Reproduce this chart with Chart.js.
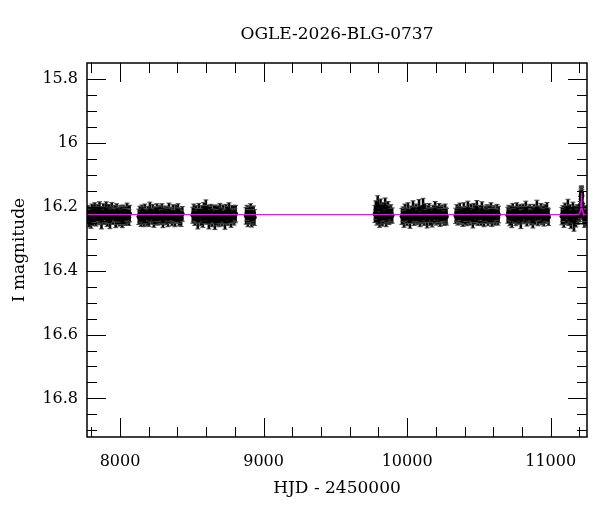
<!DOCTYPE html>
<html><head><meta charset="utf-8">
<script src="https://cdn.jsdelivr.net/npm/chart.js@4"></script>
<style>html,body{margin:0;padding:0;background:#fff;} canvas{display:block;}</style>
</head><body>
<canvas id="c" width="600" height="512"></canvas>
<script>
const chartTitle = 'OGLE-2026-BLG-0737';
const xTitle = 'HJD - 2450000';
const yTitle = 'I magnitude';
const xTicks = [8000, 9000, 10000, 11000];
const yTicks = [15.8, 16, 16.2, 16.4, 16.6, 16.8];
const xRange = [7770, 11253];
const yRange = [15.749, 16.921];

const hjd = [
7772,7778,7785,7791,7798,7805,7811,7818,7824,7831,7838,7844,7851,7857,7864,7871,7877,7884,7890,7897,7904,7910,7917,7923,7930,7937,7943,7950,7956,7963,7970,7976,7983,7989,7996,8003,8009,8016,8022,8029,8036,8042,8049,8055,8062,8067,
8131,8138,8145,8152,8159,8166,8173,8180,8187,8194,8201,8208,8215,8222,8229,8236,8243,8250,8257,8264,8271,8278,8285,8292,8299,8306,8313,8320,8327,8334,8341,8348,8355,8362,8369,8376,8383,8390,8397,8404,8411,8418,8425,8434,
8507,8514,8521,8528,8535,8542,8549,8556,8563,8570,8577,8584,8591,8598,8605,8612,8619,8626,8633,8640,8647,8654,8661,8668,8675,8682,8689,8696,8703,8710,8717,8724,8731,8738,8745,8752,8759,8766,8773,8780,8787,8794,8800,8805,
8878,8884,8891,8897,8904,8910,8917,8923,8930,8936,
9776,9782,9789,9795,9802,9808,9815,9821,9828,9834,9841,9847,9854,9860,9867,9873,9880,9887,9896,
9964,9971,9978,9985,9992,9999,10006,10013,10020,10027,10034,10041,10048,10055,10062,10069,10076,10083,10090,10097,10104,10111,10118,10125,10132,10139,10146,10153,10160,10167,10174,10181,10188,10195,10202,10209,10216,10223,10230,10237,10244,10251,10258,10265,10270,10274,
10339,10346,10353,10360,10367,10374,10381,10388,10395,10402,10409,10416,10423,10430,10437,10444,10451,10458,10465,10472,10479,10486,10493,10500,10507,10514,10521,10528,10535,10542,10549,10556,10563,10570,10577,10584,10591,10598,10605,10612,10619,10626,10632,10637,
10701,10708,10715,10722,10729,10736,10743,10750,10757,10764,10771,10778,10785,10792,10799,10806,10813,10820,10827,10834,10841,10848,10855,10862,10869,10876,10883,10890,10897,10904,10911,10918,10925,10932,10939,10946,10953,10960,10967,10974,10980,10985,
11078,11085,11092,11099,11106,11113,11120,11127,11134,11141,11148,11155,11162,11169,11176,11183,11190,11196,11201,11205,11208,11211,11212,11213,11214,11215,11216,11217,11220,11224,11229,11235,11241,11247,11253
];
const mag = [
16.228,16.219,16.236,16.222,16.241,16.215,16.230,16.226,16.212,16.238,16.224,16.219,16.233,16.209,16.227,16.240,16.221,16.216,16.232,16.225,16.211,16.237,16.229,16.218,16.243,16.223,16.214,16.231,16.226,16.220,16.238,16.213,16.229,16.224,16.235,16.217,16.227,16.242,16.219,16.230,16.222,16.236,16.215,16.228,16.233,16.221,
16.231,16.224,16.238,16.219,16.227,16.240,16.216,16.229,16.233,16.221,16.236,16.212,16.226,16.230,16.218,16.239,16.223,16.228,16.214,16.235,16.225,16.220,16.232,16.217,16.241,16.226,16.219,16.230,16.222,16.237,16.215,16.228,16.224,16.234,16.219,16.229,16.238,16.221,16.226,16.213,16.233,16.227,16.236,16.222,
16.226,16.218,16.235,16.222,16.229,16.241,16.214,16.227,16.232,16.220,16.238,16.211,16.224,16.205,16.231,16.219,16.243,16.226,16.216,16.237,16.229,16.222,16.245,16.218,16.233,16.225,16.239,16.215,16.228,16.236,16.221,16.230,16.244,16.217,16.226,16.234,16.212,16.229,16.238,16.223,16.219,16.232,16.227,16.221,
16.228,16.219,16.235,16.224,16.231,16.216,16.238,16.226,16.221,16.233,
16.222,16.210,16.231,16.196,16.226,16.239,16.205,16.218,16.234,16.215,16.228,16.200,16.236,16.221,16.212,16.230,16.224,16.219,16.227,
16.230,16.223,16.238,16.219,16.227,16.234,16.214,16.229,16.241,16.221,16.226,16.209,16.235,16.224,16.218,16.232,16.226,16.206,16.239,16.222,16.229,16.201,16.233,16.217,16.226,16.240,16.220,16.214,16.231,16.225,16.237,16.219,16.228,16.211,16.234,16.223,16.230,16.216,16.238,16.224,16.220,16.229,16.235,16.218,16.226,16.231,
16.228,16.219,16.234,16.224,16.215,16.231,16.226,16.238,16.212,16.229,16.222,16.236,16.208,16.227,16.233,16.218,16.225,16.240,16.214,16.230,16.222,16.206,16.235,16.227,16.219,16.232,16.211,16.228,16.237,16.221,16.226,16.216,16.234,16.223,16.229,16.213,16.238,16.225,16.220,16.231,16.227,16.217,16.233,16.224,
16.226,16.218,16.233,16.221,16.238,16.214,16.229,16.224,16.235,16.212,16.227,16.231,16.219,16.240,16.223,16.216,16.230,16.225,16.209,16.236,16.222,16.228,16.218,16.233,16.226,16.241,16.215,16.229,16.222,16.206,16.234,16.220,16.227,16.213,16.231,16.224,16.237,16.219,16.228,16.211,16.226,16.232,
16.229,16.221,16.236,16.214,16.231,16.224,16.205,16.233,16.219,16.240,16.226,16.212,16.246,16.223,16.235,16.217,16.228,16.222,16.219,16.210,16.195,16.175,16.166,16.160,16.157,16.155,16.161,16.168,16.190,16.214,16.228,16.236,16.221,16.232,16.226
];
const err = [
.025,.023,.027,.022,.026,.024,.028,.023,.025,.022,.026,.027,.023,.025,.024,.029,.022,.026,.023,.025,.027,.024,.022,.026,.025,.023,.028,.024,.022,.025,.027,.023,.026,.024,.025,.022,.028,.023,.025,.026,.024,.022,.027,.023,.025,.026,
.024,.026,.023,.025,.027,.022,.025,.024,.026,.023,.025,.027,.022,.024,.026,.025,.023,.028,.024,.022,.026,.025,.023,.027,.024,.025,.022,.026,.023,.025,.027,.024,.023,.025,.026,.022,.024,.027,.025,.023,.026,.024,.025,.023,
.025,.027,.023,.026,.024,.028,.025,.023,.027,.024,.026,.025,.029,.027,.023,.025,.026,.028,.024,.025,.023,.027,.026,.024,.025,.028,.023,.026,.025,.024,.027,.023,.026,.025,.028,.024,.025,.023,.026,.027,.024,.025,.023,.026,
.026,.024,.027,.025,.023,.026,.025,.027,.024,.025,
.027,.029,.026,.031,.028,.025,.030,.027,.026,.029,.025,.028,.026,.027,.029,.025,.027,.026,.024,
.025,.023,.026,.028,.024,.025,.027,.023,.026,.024,.025,.028,.023,.026,.027,.024,.025,.029,.023,.026,.024,.028,.025,.027,.023,.026,.024,.025,.027,.023,.026,.024,.025,.028,.023,.026,.024,.027,.023,.025,.026,.024,.023,.027,.025,.026,
.024,.026,.023,.025,.027,.024,.026,.023,.025,.027,.024,.023,.026,.025,.024,.027,.023,.026,.025,.024,.027,.026,.023,.025,.024,.026,.027,.023,.025,.024,.026,.023,.025,.027,.024,.026,.023,.025,.024,.026,.023,.025,.024,.026,
.025,.023,.026,.024,.027,.025,.023,.026,.024,.025,.027,.023,.026,.028,.024,.025,.023,.026,.027,.024,.025,.023,.026,.024,.027,.025,.023,.026,.024,.027,.025,.023,.026,.024,.025,.027,.023,.026,.024,.025,.023,.026,
.027,.025,.028,.026,.024,.027,.029,.025,.026,.028,.024,.027,.030,.026,.028,.024,.027,.025,.026,.027,.028,.026,.023,.022,.021,.021,.022,.023,.025,.025,.026,.028,.025,.027,.026
];

const modelHjd = [7700, 11190, 11198, 11203, 11207, 11210, 11212, 11214, 11216, 11218, 11221, 11225, 11230, 11238, 11300];
const modelMag = [16.224, 16.224, 16.222, 16.219, 16.212, 16.200, 16.183, 16.157, 16.180, 16.198, 16.211, 16.218, 16.222, 16.224, 16.224];

const FONT = 'DejaVu Serif';

const errorBars = {
  id: 'errorBars',
  beforeDatasetsDraw(chart) {
    const {ctx, chartArea: a, scales: {x, y}} = chart;
    ctx.save();
    ctx.beginPath();
    ctx.rect(a.left, a.top, a.right - a.left, a.bottom - a.top);
    ctx.clip();
    ctx.strokeStyle = '#000';
    ctx.lineWidth = 2.6;
    ctx.beginPath();
    hjd.forEach((t, i) => {
      const px = x.getPixelForValue(t);
      const y1 = y.getPixelForValue(mag[i] - err[i]);
      const y2 = y.getPixelForValue(mag[i] + err[i]);
      ctx.moveTo(px, y1); ctx.lineTo(px, y2);
    });
    ctx.stroke();
    ctx.strokeStyle = '#444';
    ctx.lineWidth = 1;
    ctx.beginPath();
    hjd.forEach((t, i) => {
      const px = x.getPixelForValue(t);
      const y1 = y.getPixelForValue(mag[i] - err[i]);
      const y2 = y.getPixelForValue(mag[i] + err[i]);
      ctx.moveTo(px - 2.5, y1); ctx.lineTo(px + 2.5, y1);
      ctx.moveTo(px - 2.5, y2); ctx.lineTo(px + 2.5, y2);
    });
    ctx.stroke();
    ctx.restore();
  }
};

const frame = {
  id: 'frame',
  afterDatasetsDraw(chart) {
    const {ctx, chartArea: a, scales: {x, y}} = chart;
    ctx.save();
    ctx.strokeStyle = '#000';
    ctx.lineWidth = 1;
    ctx.beginPath();
    const xt = (v, len) => {
      const p = Math.round(x.getPixelForValue(v)) + 0.5;
      ctx.moveTo(p, a.bottom); ctx.lineTo(p, a.bottom - len);
      ctx.moveTo(p, a.top); ctx.lineTo(p, a.top + len);
    };
    const yt = (v, len) => {
      const p = Math.round(y.getPixelForValue(v)) + 0.5;
      ctx.moveTo(a.left, p); ctx.lineTo(a.left + len, p);
      ctx.moveTo(a.right, p); ctx.lineTo(a.right - len, p);
    };
    for (let v = 7800; v <= xRange[1]; v += 200) xt(v, xTicks.includes(v) ? 19 : 10);
    for (let k = 316; k <= 338; k++) {
      const v = k * 0.05;
      const major = Math.abs(v * 5 - Math.round(v * 5)) < 1e-6;
      yt(v, major ? 19 : 10);
    }
    ctx.stroke();
    ctx.lineWidth = 1.5;
    ctx.strokeRect(a.left, a.top, a.right - a.left, a.bottom - a.top);
    ctx.fillStyle = '#000';
    ctx.font = '17px "' + FONT + '"';
    ctx.textAlign = 'center';
    ctx.textBaseline = 'middle';
    ctx.fillText(chartTitle, (a.left + a.right) / 2, 35);
    ctx.restore();
  }
};

new Chart(document.getElementById('c'), {
  type: 'scatter',
  data: {
    datasets: [
      {
        label: 'model', type: 'line', order: 0,
        data: modelHjd.map((t, i) => ({x: t, y: modelMag[i]})),
        borderColor: '#ff00ff', borderWidth: 1.3, pointRadius: 0, fill: false, tension: 0
      },
      {
        label: 'OGLE', order: 1,
        data: hjd.map((t, i) => ({x: t, y: mag[i]})),
        backgroundColor: '#000', borderColor: '#000', borderWidth: 0, pointRadius: 2.4
      }
    ]
  },
  options: {
    responsive: false, animation: false, devicePixelRatio: 1,
    layout: {padding: {top: 63, right: 13, left: 0, bottom: 0}},
    plugins: {legend: {display: false}, tooltip: {enabled: false}, title: {display: false}},
    scales: {
      x: {
        type: 'linear', min: xRange[0], max: xRange[1],
        afterBuildTicks: s => { s.ticks = xTicks.map(v => ({value: v})); },
        afterFit: s => { s.height = 75; },
        grid: {display: false, drawTicks: false}, border: {display: false},
        ticks: {color: '#000', font: {family: FONT, size: 16}, padding: 15, maxRotation: 0, autoSkip: false, callback: v => String(v)},
        title: {display: true, text: xTitle, color: '#000', font: {family: FONT, size: 17}, padding: {top: 0, bottom: 13}}
      },
      y: {
        type: 'linear', reverse: true, min: yRange[0], max: yRange[1],
        afterBuildTicks: s => { s.ticks = yTicks.map(v => ({value: v})); },
        afterFit: s => { s.width = 87; },
        grid: {display: false, drawTicks: false}, border: {display: false},
        ticks: {color: '#000', font: {family: FONT, size: 16}, padding: 9, autoSkip: false, callback: v => String(v)},
        title: {display: true, text: yTitle, color: '#000', font: {family: FONT, size: 17}, padding: {top: 9, bottom: 0}}
      }
    }
  },
  plugins: [errorBars, frame]
});
</script>
</body></html>
